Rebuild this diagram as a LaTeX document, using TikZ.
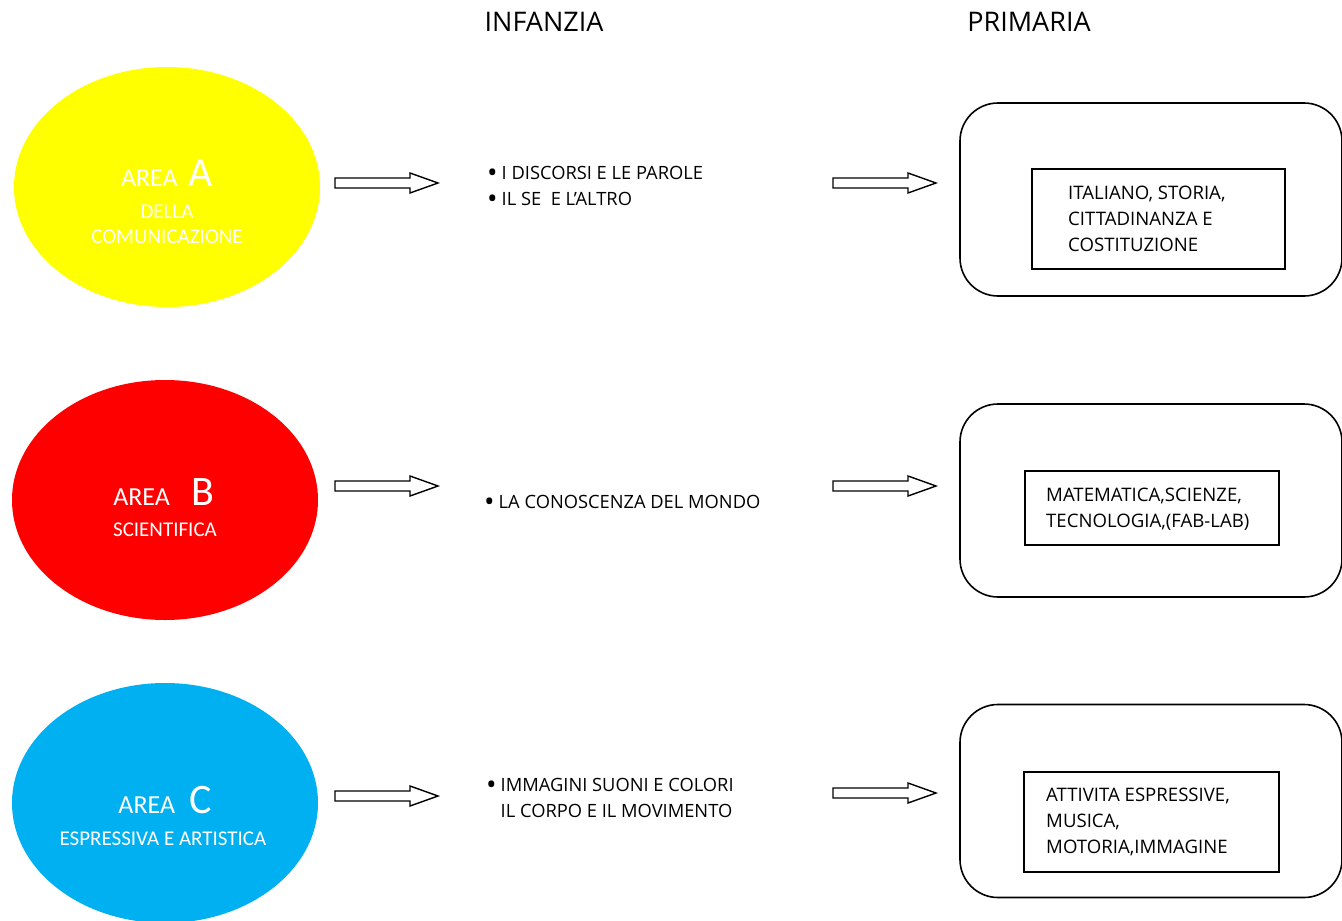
\documentclass[tikz,border=0pt]{standalone}
\usepackage{fontspec}
\setmainfont{Open Sans}
\newfontfamily\calibri{Carlito}
\usetikzlibrary{shapes.geometric}

\definecolor{areaYellow}{RGB}{255,255,0}
\definecolor{areaRed}{RGB}{255,0,0}
\definecolor{areaBlue}{RGB}{0,176,240}

\newcommand{\blt}{\raisebox{-2.8pt}{\fontsize{28}{28}\selectfont •}\hspace{4pt}}
\newcommand{\arealetter}[1]{{\fontsize{42}{42}\selectfont #1}}

\tikzset{
  area/.style={ellipse, minimum width=306pt, minimum height=240pt, inner sep=0pt},
  areatitle/.style={anchor=base, text=white, font=\calibri\fontsize{26}{30}\selectfont, inner sep=0pt},
  areasub/.style={anchor=base, text=white, font=\calibri\fontsize{21}{26}\selectfont, inner sep=0pt},
  title/.style={font=\fontsize{27}{30}\selectfont},
  listtext/.style={anchor=west, align=left, inner sep=0pt, font=\fontsize{18.3}{26}\selectfont},
  subjecttext/.style={anchor=west, align=left, inner sep=0pt, font=\fontsize{18.6}{26}\selectfont},
  schoolbox/.style={draw, line width=1.6pt, rounded corners=38pt, minimum width=382pt, minimum height=193pt},
  subjectbox/.style={draw, line width=1.6pt, inner sep=0pt},
  blockarrow/.style={draw, line width=1.4pt, fill=white, line join=miter}
}

\begin{document}
\begin{tikzpicture}[x=1pt,y=-1pt]
    \useasboundingbox (0,0) rectangle (1342,921);

    % titoli delle colonne
    \node[title] (titInf) at (544,22) {INFANZIA};
    \node[title] (titPrim) at (1029,22) {PRIMARIA};

    % aree
    \node[area, fill=areaYellow] (areaA) at (167,187) {};
    \node[areatitle] (labA) at (167,186) {AREA\hspace{11pt}\arealetter{A}};
    \node[areasub] (subA1) at (167,218) {DELLA};
    \node[areasub] (subA2) at (167,243) {COMUNICAZIONE};

    \node[area, fill=areaRed] (areaB) at (165,500) {};
    \node[areatitle] (labB) at (164,505) {AREA\hspace{22pt}\arealetter{B}};
    \node[areasub] (subB) at (165,536) {SCIENTIFICA};

    \node[area, fill=areaBlue] (areaC) at (165,803) {};
    \node[areatitle] (labC) at (165,813) {AREA\hspace{14pt}\arealetter{C}};
    \node[areasub] (subC) at (163,845) {ESPRESSIVA E ARTISTICA};

    % frecce
    \foreach \ax/\ay in {335/183, 335/486, 335/796, 833/183, 833/486, 833/793}
        \draw[blockarrow] (\ax,\ay-5) -- ++(75,0) -- ++(0,-5) -- (\ax+103,\ay)
            -- (\ax+75,\ay+10) -- ++(0,-5) -- (\ax,\ay+5) -- cycle;

    % campi di esperienza
    \node[listtext] (infA) at (487,187) {\blt I DISCORSI E LE PAROLE\\\blt IL SE\ \ E L’ALTRO};
    \node[listtext] (infB) at (484,503) {\blt LA CONOSCENZA DEL MONDO};
    \node[listtext] (infC) at (486,799) {\blt IMMAGINI SUONI E COLORI\\\phantom{\blt}IL CORPO E IL MOVIMENTO};

    % discipline primaria
    \node[schoolbox] (primA) at (1151,199.5) {};
    \node[subjectbox, minimum width=253pt, minimum height=100pt] (discA) at (1158.5,219) {};
    \node[subjecttext] (txtA) at (1068,219) {ITALIANO, STORIA,\\CITTADINANZA E\\COSTITUZIONE};

    \node[schoolbox] (primB) at (1151,500.5) {};
    \node[subjectbox, minimum width=254pt, minimum height=74pt] (discB) at (1152,508) {};
    \node[subjecttext] (txtB) at (1046,509) {MATEMATICA,SCIENZE,\\TECNOLOGIA,(FAB-LAB)};

    \node[schoolbox] (primC) at (1151,801) {};
    \node[subjectbox, minimum width=255pt, minimum height=100pt] (discC) at (1151.5,822) {};
    \node[subjecttext] (txtC) at (1046,822) {ATTIVITA ESPRESSIVE,\\MUSICA,\\MOTORIA,IMMAGINE};
\end{tikzpicture}
\end{document}
